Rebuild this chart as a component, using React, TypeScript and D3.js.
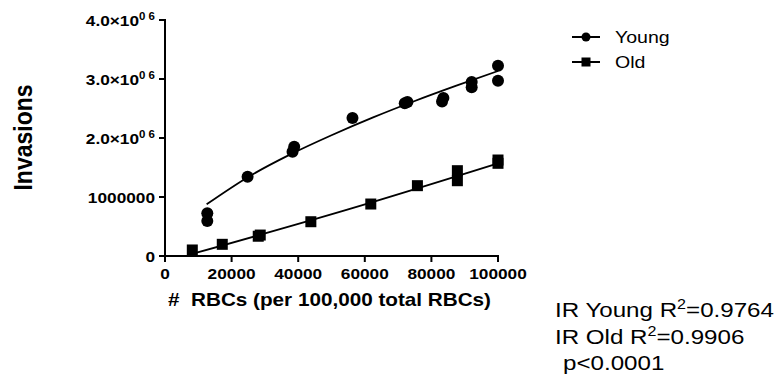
import * as d3 from 'd3';

// Young RBCs: observed invasions
const youngX = [12700, 12700, 24800, 38300, 38800, 56300, 72000, 72800, 83200, 83600, 92100, 92100, 100000, 100000];
const youngY = [723000, 593000, 1344000, 1768000, 1853000, 2339000, 2590000, 2610000, 2620000, 2680000, 2860000, 2950000, 3226000, 2971000];

// Old RBCs: observed invasions
const oldX = [8200, 17200, 28000, 28600, 43800, 61800, 75800, 87800, 87800, 100000, 100000];
const oldY = [102000, 198000, 335000, 355000, 581000, 881000, 1192000, 1276000, 1446000, 1571000, 1627000];

// fitted curves
const youngFitX = [12500, 25000, 37500, 50000, 62500, 75000, 87500, 100000];
const youngFitY = [876000, 1340000, 1718000, 2047000, 2349000, 2627000, 2887000, 3136000];
const oldFitX = [9500, 55000, 100000];
const oldFitY = [56000, 790000, 1570000];

const xTicks = [0, 20000, 40000, 60000, 80000, 100000];
const yTicks = [0, 1000000, 2000000, 3000000, 4000000];
const yTickLabels = ['0', '1000000', '2.0×10^0 6', '3.0×10^0 6', '4.0×10^0 6'];

const notes = ['IR Young R^2^=0.9764', 'IR Old R^2^=0.9906'];
const pNote = 'p<0.0001';

const FONT = "'Liberation Sans', Arial, sans-serif";
const SX = 1.15; // glyphs in the original are a little wide

function Label({ x, y, size, bold = false, anchor = 'start', children }: any) {
  return (
    <text
      transform={`translate(${x},${y}) scale(${SX},1)`}
      fontFamily={FONT}
      fontSize={size}
      fontWeight={bold ? 'bold' : 'normal'}
      textAnchor={anchor}
      fill="#000"
      style={{ whiteSpace: 'pre' }}
    >
      {children}
    </text>
  );
}

// "base^sup^rest" -> base with a raised sup, then rest back on the baseline
function withSup(s: string, supSize: number, dy: number) {
  const [base, sup, rest] = s.split('^');
  if (sup === undefined) return base;
  return (
    <>
      {base}
      <tspan dy={dy} fontSize={supSize}>{sup}</tspan>
      {rest !== undefined && <tspan dy={-dy}>{rest}</tspan>}
    </>
  );
}

export default function App() {
  const width = 778;
  const height = 386;

  const x = d3.scaleLinear().domain([0, 100000]).range([165, 498]);
  const y = d3.scaleLinear().domain([0, 4000000]).range([256, 20]);

  const young = youngX.map((v, i) => [v, youngY[i]]);
  const old = oldX.map((v, i) => [v, oldY[i]]);

  const youngFit = d3.line<number>()
    .x(d => x(youngFitX[d]))
    .y(d => y(youngFitY[d]))
    .curve(d3.curveMonotoneX)(youngFitX.map((_, i) => i));
  const oldFit = d3.line<number>()
    .x(d => x(oldFitX[d]))
    .y(d => y(oldFitY[d]))
    .curve(d3.curveNatural)(oldFitX.map((_, i) => i));

  const sq = 11;

  return (
    <div style={{ position: 'absolute', left: 0, top: 0 }}>
      <svg width={width} height={height} style={{ display: 'block', background: '#fff' }}>
        {/* axes */}
        <g stroke="#000" strokeWidth={2} fill="none">
          <line x1={x(0)} x2={x(0)} y1={y(4000000) - 1} y2={y(0) + 1} />
          <line x1={x(0) - 1} x2={x(100000) + 1} y1={y(0)} y2={y(0)} />
          {yTicks.map(t => (
            <line key={'yt' + t} x1={x(0) - 6} x2={x(0)} y1={y(t)} y2={y(t)} />
          ))}
          {xTicks.map(t => (
            <line key={'xt' + t} x1={x(t)} x2={x(t)} y1={y(0)} y2={y(0) + 6} />
          ))}
        </g>

        {yTicks.map((t, i) => (
          <Label key={'yl' + t} x={155} y={y(t) + 5.5} size={15} bold anchor="end">
            {withSup(yTickLabels[i], 10, -6)}
          </Label>
        ))}
        {xTicks.map(t => (
          <Label key={'xl' + t} x={x(t)} y={279} size={15} bold anchor="middle">
            {String(t)}
          </Label>
        ))}

        <Label x={329.5} y={306} size={18} bold anchor="middle">
          {'#  RBCs (per 100,000 total RBCs)'}
        </Label>
        <text
          transform={`translate(32,137.5) scale(${SX},1) rotate(-90)`}
          fontFamily={FONT}
          fontSize={23}
          fontWeight="bold"
          textAnchor="middle"
        >
          Invasions
        </text>

        {/* fits */}
        <path d={youngFit || ''} fill="none" stroke="#000" strokeWidth={1.8} />
        <path d={oldFit || ''} fill="none" stroke="#000" strokeWidth={1.8} />

        {/* points */}
        {young.map(([a, b], i) => (
          <circle key={'y' + i} cx={x(a)} cy={y(b)} r={6} fill="#000" />
        ))}
        {old.map(([a, b], i) => (
          <rect key={'o' + i} x={x(a) - sq / 2} y={y(b) - sq / 2} width={sq} height={sq} fill="#000" />
        ))}

        {/* legend */}
        <g>
          <line x1={572} x2={600} y1={37} y2={37} stroke="#000" strokeWidth={2} />
          <circle cx={586} cy={37} r={4.5} fill="#000" />
          <Label x={615} y={43} size={17}>Young</Label>
          <line x1={572} x2={600} y1={62} y2={62} stroke="#000" strokeWidth={2} />
          <rect x={581.5} y={57.5} width={9} height={9} fill="#000" />
          <Label x={615} y={68} size={17}>Old</Label>
        </g>

        {notes.map((n, i) => (
          <Label key={'n' + i} x={555} y={317 + i * 27} size={21}>
            {withSup(n, 14, -8)}
          </Label>
        ))}
        <Label x={563} y={370} size={21}>{pNote}</Label>
      </svg>
    </div>
  );
}
